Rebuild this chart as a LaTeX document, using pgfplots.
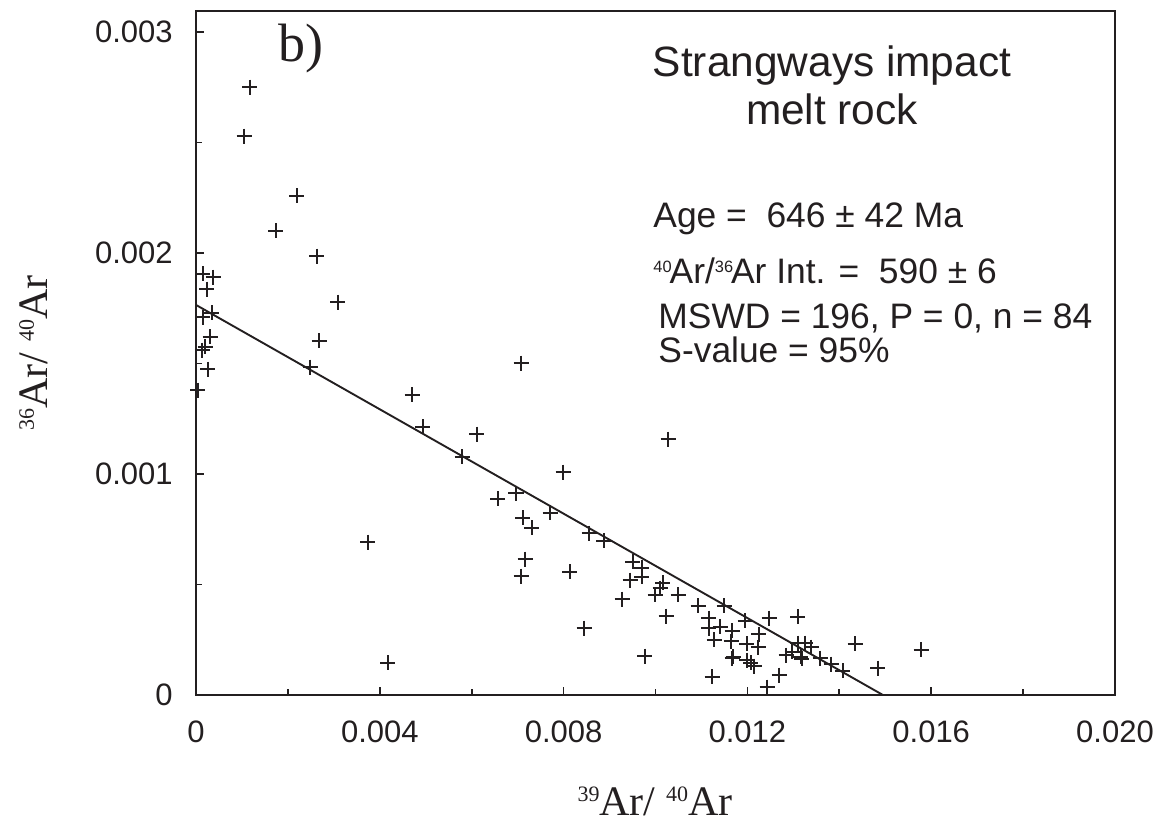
\documentclass[border=0pt]{standalone}
\usepackage{fontspec}
\setmainfont{Liberation Sans}
\newfontfamily\timesfont{Liberation Serif}
\usepackage{pgfplots}
\pgfplotsset{compat=1.18}
\definecolor{ink}{RGB}{35,31,32}
\begin{document}
\begin{tikzpicture}
\path[use as bounding box] (-98pt,-65.5pt) rectangle (487pt,347.5pt);
\begin{axis}[
  at={(0,0)}, anchor=south west,
  scale only axis, width=459.5pt, height=342pt,
  xmin=0, xmax=0.020, ymin=0, ymax=0.003095,
  axis line style={ink, line width=0.85pt},
  tick style={ink, line width=0.85pt},
  xtick={0,0.004,0.008,0.012,0.016,0.020},
  xticklabels={0,0.004,0.008,0.012,0.016,0.020},
  ytick={0,0.001,0.002,0.003},
  yticklabels={0,0.001,0.002,0.003},
  minor x tick num=1, minor y tick num=1,
  tick align=inside, xtick pos=left, ytick pos=left,
  major tick length=4pt, minor tick length=3pt,
  ticklabel style={font=\fontsize{15.5}{18}\selectfont, text=ink, inner sep=0pt},
  xticklabel style={anchor=north, yshift=-12.5pt},
  yticklabel style={anchor=east, xshift=-11.5pt},
  scaled ticks=false,
  clip=false,
]
\addplot[only marks, mark=+, mark size=3.75pt, mark options={line width=0.75pt, draw=ink}] table {
x y
0.001175 0.002751
0.001045 0.002529
0.002198 0.002258
0.001741 0.002100
0.002633 0.001986
0.000152 0.001905
0.000370 0.001891
0.000239 0.001837
0.000152 0.001710
0.000348 0.001729
0.000305 0.001620
0.000131 0.001561
0.000196 0.001575
0.000261 0.001475
0.0000435 0.001380
0.003090 0.001778
0.002677 0.001602
0.002481 0.001484
0.004701 0.001358
0.004940 0.001213
0.003743 0.000692
0.004178 0.000145
0.007073 0.001502
0.006115 0.001181
0.010272 0.001158
0.005789 0.001077
0.007987 0.001009
0.006572 0.000887
0.006964 0.000914
0.007704 0.000824
0.007116 0.000801
0.007312 0.000756
0.008553 0.000733
0.008879 0.000697
0.007160 0.000615
0.007073 0.000538
0.008139 0.000557
0.009510 0.000602
0.009706 0.000575
0.009445 0.000520
0.009706 0.000534
0.009271 0.000434
0.010163 0.000507
0.010098 0.000484
0.009989 0.000453
0.010490 0.000453
0.010229 0.000357
0.008444 0.000303
0.010925 0.000403
0.011491 0.000403
0.011164 0.000348
0.011164 0.000303
0.011404 0.000308
0.011273 0.000249
0.011665 0.000290
0.011948 0.000335
0.012252 0.000276
0.012470 0.000348
0.013101 0.000353
0.011643 0.000244
0.011991 0.000231
0.012231 0.000217
0.009771 0.000176
0.011665 0.000167
0.011991 0.000158
0.012078 0.000145
0.012144 0.000131
0.011230 0.0000815
0.012427 0.0000362
0.012688 0.0000905
0.012840 0.000181
0.012971 0.000195
0.013101 0.000235
0.013254 0.000235
0.013384 0.000217
0.013166 0.000172
0.013580 0.000167
0.013820 0.000140
0.014080 0.000109
0.014342 0.000231
0.014842 0.000122
0.015778 0.000204
0.011687 0.000172
0.013188 0.000163
};
\addplot[ink, line width=0.95pt] coordinates {(0,0.001765) (0.01495,0)};
\end{axis}
% panel letter
\node[anchor=base west, inner sep=0pt, text=ink] at (41pt,316.5pt) {\timesfont\fontsize{27}{30}\selectfont b)};
% title
\node[anchor=base, inner sep=0pt, text=ink] at (318pt,309pt) {\fontsize{21.2}{25}\selectfont Strangways impact};
\node[anchor=base, inner sep=0pt, text=ink] at (318pt,285pt) {\fontsize{21.2}{25}\selectfont melt rock};
% statistics
\node[anchor=base west, inner sep=0pt, text=ink] at (228.5pt,234pt) {\fontsize{17.7}{20}\selectfont Age = \ 646 ± 42 Ma};
\node[anchor=base west, inner sep=0pt, text=ink] at (228.5pt,206pt) {\fontsize{17.7}{20}\selectfont \raisebox{5.5pt}{\fontsize{8.2}{8.2}\selectfont 40}\kern-1pt Ar/\raisebox{5.5pt}{\fontsize{8.2}{8.2}\selectfont 36}\kern-1pt Ar Int. = \ 590 ± 6};
\node[anchor=base west, inner sep=0pt, text=ink] at (231pt,183.5pt) {\fontsize{17.7}{20}\selectfont MSWD = 196, P = 0, n = 84};
\node[anchor=base west, inner sep=0pt, text=ink] at (231pt,166.5pt) {\fontsize{17.7}{20}\selectfont S-value = 95\%};
% axis labels
\node[anchor=base, inner sep=0pt, text=ink] at (229.5pt,-60pt) {\timesfont\fontsize{21}{23}\selectfont \raisebox{7pt}{\fontsize{11}{11}\selectfont 39}Ar/ \raisebox{7pt}{\fontsize{11}{11}\selectfont 40}Ar};
\node[anchor=base, rotate=90, inner sep=0pt, text=ink] at (-74pt,171pt) {\timesfont\fontsize{21}{23}\selectfont \raisebox{7pt}{\fontsize{11}{11}\selectfont 36}Ar/ \raisebox{7pt}{\fontsize{11}{11}\selectfont 40}Ar};
\end{tikzpicture}
\end{document}
